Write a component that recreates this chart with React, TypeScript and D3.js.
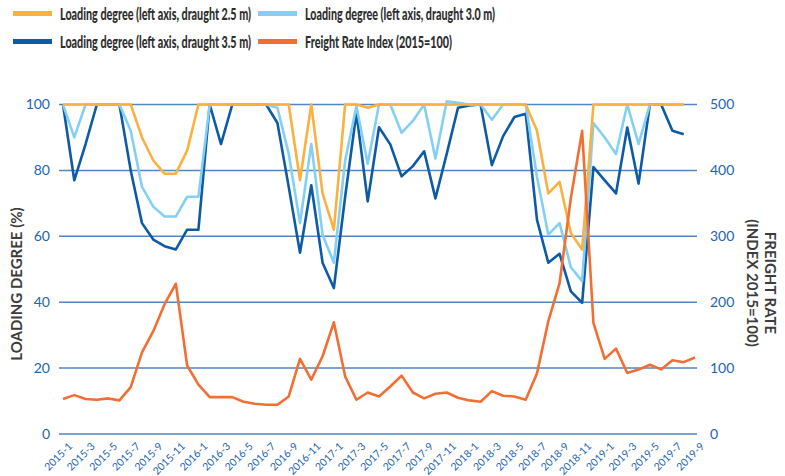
import React from "react";
import * as d3 from "d3";

// monthly categories, Jan 2015 .. Sep 2019
const months = [
  "2015-1", "2015-2", "2015-3", "2015-4", "2015-5", "2015-6", "2015-7", "2015-8", "2015-9", "2015-10", "2015-11", "2015-12",
  "2016-1", "2016-2", "2016-3", "2016-4", "2016-5", "2016-6", "2016-7", "2016-8", "2016-9", "2016-10", "2016-11", "2016-12",
  "2017-1", "2017-2", "2017-3", "2017-4", "2017-5", "2017-6", "2017-7", "2017-8", "2017-9", "2017-10", "2017-11", "2017-12",
  "2018-1", "2018-2", "2018-3", "2018-4", "2018-5", "2018-6", "2018-7", "2018-8", "2018-9", "2018-10", "2018-11", "2018-12",
  "2019-1", "2019-2", "2019-3", "2019-4", "2019-5", "2019-6", "2019-7", "2019-8", "2019-9",
];

// loading degree (%), left axis
const draught25 = [
  100, 100, 100, 100, 100, 100, 100, 90, 83, 79, 79, 86,
  100, 100, 100, 100, 100, 100, 100, 100, 100, 77, 100, 73,
  62, 100, 100, 99, 100, 100, 100, 100, 100, 100, 100, 100,
  100, 100, 100, 100, 100, 100, 92, 73, 76.5, 61, 56, 100,
  100, 100, 100, 100, 100, 100, 100, 100,
];
const draught30 = [
  100, 90, 100, 100, 100, 100, 92, 75, 69, 66, 66, 72,
  72, 100, 100, 100, 100, 100, 100, 99, 85, 64, 88, 60.5,
  52, 83, 99.5, 82, 100, 100, 91.4, 95, 100, 83.6, 101, 100.5,
  100, 100, 95.4, 100, 100, 100, 78, 60.5, 64, 50.6, 46.4, 94.4,
  90, 85, 100, 88, 100, 100, 100, 100,
];
const draught35 = [
  100, 77, 88, 100, 100, 100, 80, 64, 59, 57, 56, 62,
  62, 100, 88, 100, 100, 100, 100, 94.4, 75, 55, 75.5, 52,
  44.3, 72, 97.5, 70.6, 93.1, 87.9, 78.2, 81.3, 85.8, 71.5, 85, 99,
  99.7, 100, 81.6, 90.4, 96.2, 97.2, 65, 52, 54.7, 43.3, 39.8, 81,
  77, 73, 93, 76, 100, 100, 92, 91,
];
// freight rate index (2015=100), right axis
const freightIndex = [
  53, 59, 53, 52, 54, 51, 71, 124, 156, 197, 228, 104,
  75, 56, 56, 56, 49, 46, 44.5, 44.5, 57, 114, 82.5, 118,
  169.5, 87.5, 52, 63, 57, 72, 88.6, 63, 54, 61, 63, 55,
  51, 49, 65, 58, 57, 52, 92, 171, 229, 358, 460, 168.5,
  114, 129.6, 92.6, 97.7, 105, 98, 112, 109, 116,
];

const leftTicks = [0, 20, 40, 60, 80, 100];
const rightTicks = [0, 100, 200, 300, 400, 500];

const legendItems = [
  { label: "Loading degree (left axis, draught 2.5 m)", color: "#fbb040", col: 0, row: 0, len: 191 },
  { label: "Loading degree (left axis, draught 3.0 m)", color: "#84d0f5", col: 1, row: 0, len: 190 },
  { label: "Loading degree (left axis, draught 3.5 m)", color: "#0d5aa7", col: 0, row: 1, len: 191 },
  { label: "Freight Rate Index (2015=100)", color: "#f26f33", col: 1, row: 1, len: 147 },
];

const FONT = "Lato, 'Open Sans', sans-serif";
const TICK = "#1d64b0";

export default function App() {
  const x = d3.scalePoint<string>().domain(months).range([63, 695]);
  const yL = d3.scaleLinear().domain([0, 100]).range([434, 104.5]);
  const yR = d3.scaleLinear().domain([0, 500]).range([434, 104.5]);

  const lineLeft = d3.line<number>().x((_, i) => x(months[i])!).y(d => yL(d));
  const lineRight = d3.line<number>().x((_, i) => x(months[i])!).y(d => yR(d));

  const series = [
    { vals: draught35, color: "#0d5aa7" },
    { vals: draught30, color: "#84d0f5" },
    { vals: draught25, color: "#fbb040" },
  ];

  return (
    <svg width={785} height={476} style={{ position: "absolute", left: 0, top: 0, background: "#fff" }}
      fontFamily={FONT}>
      {/* legend */}
      {legendItems.map(d => {
        const lx = d.col === 0 ? 13 : 258;
        const ly = d.row === 0 ? 13.5 : 41.5;
        return (
          <g key={d.label}>
            <rect x={lx} y={ly - 2.5} width={39} height={5} fill={d.color} />
            <text x={lx + 47} y={ly + 6.5} fontSize={16.5} fontWeight={900} fill="#2e2e2e"
              textLength={d.len} lengthAdjust="spacingAndGlyphs">{d.label}</text>
          </g>
        );
      })}

      {/* grid */}
      {leftTicks.map(t => (
        <line key={t} x1={59} x2={697} y1={yL(t)} y2={yL(t)} stroke="#4f86c4" strokeWidth={1.5} />
      ))}

      {/* left ticks */}
      {leftTicks.map(t => (
        <text key={"l" + t} x={50} y={yL(t)} dy="0.35em" textAnchor="end" fontSize={14} fill={TICK}>{t}</text>
      ))}
      {rightTicks.map(t => (
        <text key={"r" + t} x={710} y={yR(t)} dy="0.35em" fontSize={14} fill={TICK}>{t}</text>
      ))}

      {/* x labels, every other month */}
      {months.filter((_, i) => i % 2 === 0).map(m => (
        <text key={m} transform={`translate(${x(m)! + 10},447) rotate(-45)`} textAnchor="end"
          fontSize={10.5} fill={TICK}>{m}</text>
      ))}

      {/* axis titles */}
      <text transform="translate(22,284) rotate(-90)" textAnchor="middle" fontSize={15} fontWeight={700}
        fill="#3c3c3c">LOADING DEGREE (%)</text>
      <text transform="translate(765,283) rotate(90)" textAnchor="middle" fontSize={15} fontWeight={700}
        fill="#3c3c3c">
        <tspan x={0} y={0}>FREIGHT RATE</tspan>
        <tspan x={0} y={18}>(INDEX 2015=100)</tspan>
      </text>

      {/* lines */}
      {series.map(s => (
        <path key={s.color} d={lineLeft(s.vals)!} fill="none" stroke={s.color} strokeWidth={2.6}
          strokeLinejoin="round" />
      ))}
      <path d={lineRight(freightIndex)!} fill="none" stroke="#f26f33" strokeWidth={2.6} strokeLinejoin="round" />
    </svg>
  );
}
